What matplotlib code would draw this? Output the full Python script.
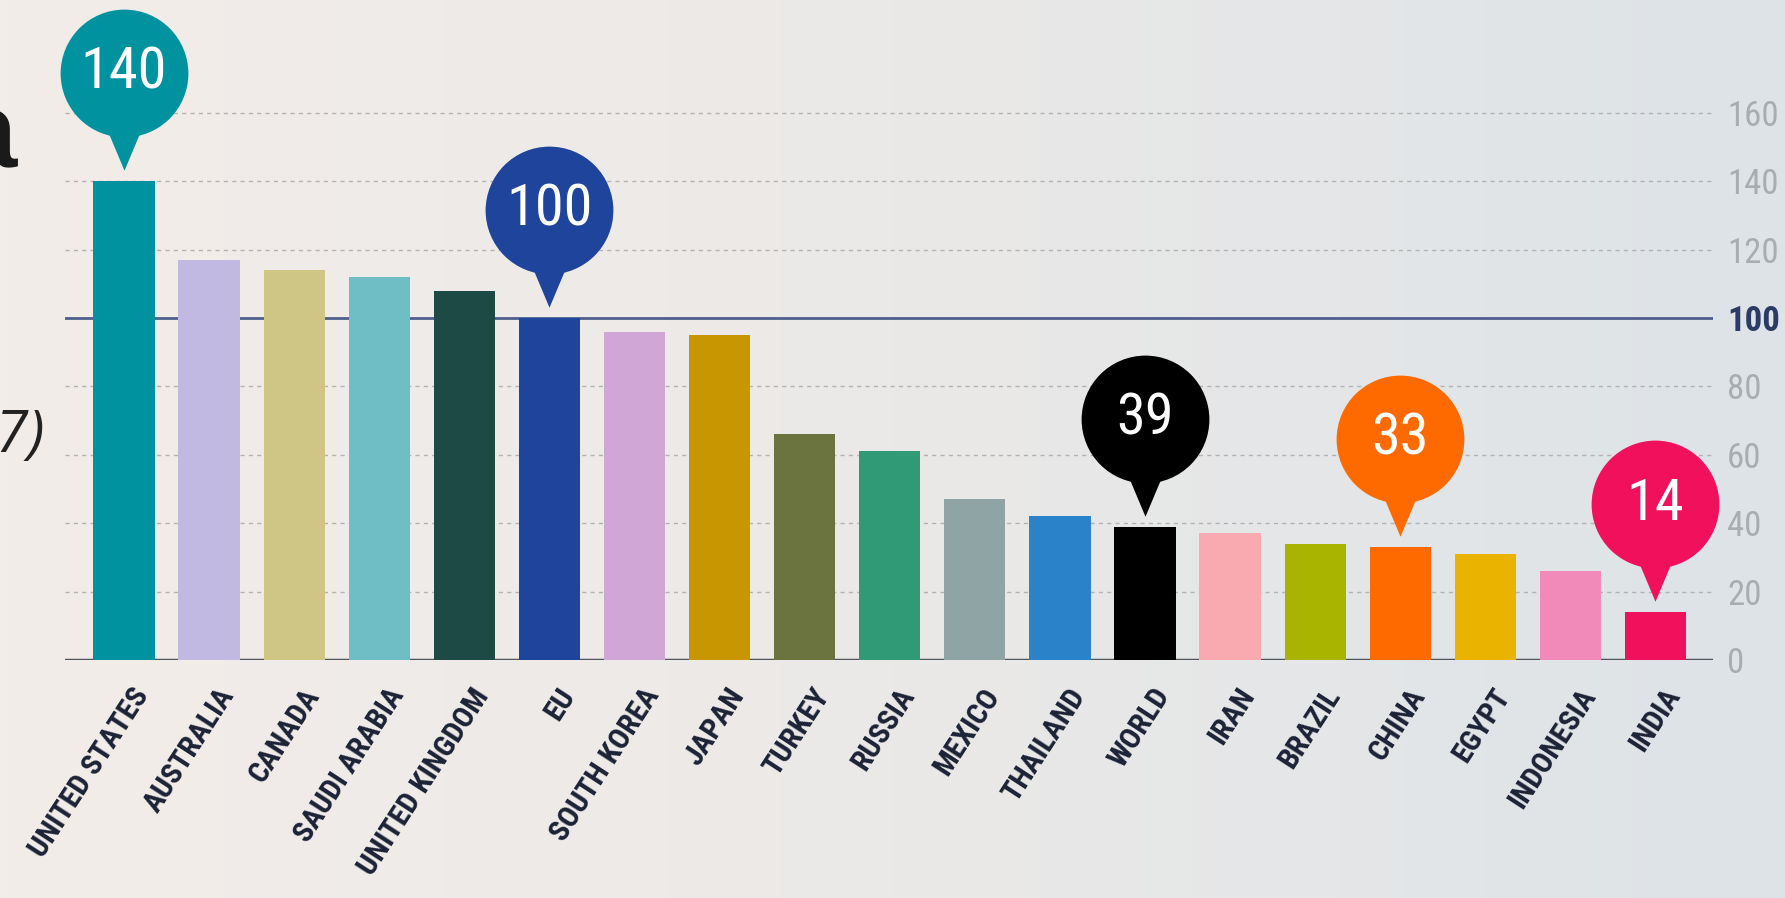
import matplotlib
matplotlib.use("Agg")
import matplotlib.pyplot as plt
import numpy as np
from matplotlib import font_manager
from matplotlib.colors import LinearSegmentedColormap
from matplotlib.transforms import offset_copy, ScaledTranslation

COUNTRIES = ["UNITED STATES", "AUSTRALIA", "CANADA", "SAUDI ARABIA", "UNITED KINGDOM",
             "EU", "SOUTH KOREA", "JAPAN", "TURKEY", "RUSSIA", "MEXICO", "THAILAND",
             "WORLD", "IRAN", "BRAZIL", "CHINA", "EGYPT", "INDONESIA", "INDIA"]
VALUES = [140, 117, 114, 112, 108, 100, 96, 95, 66, 61, 47, 42, 39, 37, 34, 33, 31, 26, 14]
COLORS = ["#00939f", "#c1b9e1", "#cfc584", "#6fbec6", "#1d4a45", "#1f449b", "#d0a6d6",
          "#c79600", "#6b743e", "#2f9a75", "#8fa4a4", "#2a82c9", "#000000", "#f9aab1",
          "#a9b400", "#ff6a00", "#e9b300", "#f189b9", "#f0105b"]
HIGHLIGHT = ["UNITED STATES", "EU", "WORLD", "CHINA", "INDIA"]
Y_TICKS = [0, 20, 40, 60, 80, 100, 120, 140, 160]

# pick a narrow face if one is installed
installed = {f.name for f in font_manager.fontManager.ttflist}
narrow = [n for n in ["Roboto Condensed", "Liberation Sans Narrow", "Open Sans Condensed",
                      "DejaVu Sans Condensed"] if n in installed]
NARROW = narrow[:1] + ["Roboto", "DejaVu Sans"]
is_narrow = bool(narrow)

W, H = 1785, 898
fig = plt.figure(figsize=(W / 100, H / 100), dpi=100)

# warm-to-cool background
bg = fig.add_axes([0, 0, 1, 1], zorder=-10)
grad = np.linspace(0, 1, 256).reshape(1, -1)
cmap = LinearSegmentedColormap.from_list("bg", ["#f3ede9", "#ebe9e7", "#dde3e7"])
bg.imshow(grad, aspect="auto", cmap=cmap, extent=(0, 1, 0, 1))
bg.set_axis_off()

# cropped title / subtitle at the left edge
fig.text(17 / W, 1 - 167 / H, "per capita", ha="right", va="baseline",
         fontsize=78, fontweight="bold", color="#1a1a1a",
         family=["Liberation Sans", "DejaVu Sans"])
fig.text(44 / W, 1 - 452 / H, "(kg per capita, 2017)", ha="right", va="baseline",
         fontsize=42, style="italic", color="#222222",
         family=["Open Sans", "Liberation Sans", "DejaVu Sans"])

ax = fig.add_axes([65 / W, 1 - 660 / H, (1713 - 65) / W, (660 - 61.5) / H])
ax.patch.set_alpha(0)
ax.set_xlim(-0.693, 18.676)
ax.set_ylim(0, 175)

x = np.arange(len(COUNTRIES))
for t in Y_TICKS:
    if t == 0:
        ax.axhline(t, color="#50565c", lw=2.5, zorder=1)
    elif t == 100:
        ax.axhline(t, color="#4e5f8e", lw=2, zorder=1)
    else:
        ax.axhline(t, color="#b3b3b3", lw=1, ls=(0, (3, 3)), zorder=0)

ax.bar(x, VALUES, width=0.72, color=COLORS, zorder=2)

# speech-bubble callouts
circ_tr = offset_copy(ax.transData, fig=fig, y=108, units="dots")
tri_tr = offset_copy(ax.transData, fig=fig, y=33, units="dots")
pointer = [(-0.42, 0.5), (0.42, 0.5), (0, -0.5)]
for name in HIGHLIGHT:
    i = COUNTRIES.index(name)
    v, c = VALUES[i], COLORS[i]
    ax.plot(x[i], v, marker=pointer, ms=32, color=c, mec="none",
            transform=tri_tr, clip_on=False, zorder=5)
    ax.plot(x[i], v, marker="o", ms=92, color=c, mec="none",
            transform=circ_tr, clip_on=False, zorder=5)
    ax.text(x[i], v, str(v), transform=circ_tr, ha="center", va="center",
            color="white", fontsize=42 if is_narrow else 34, family=NARROW, zorder=6)

# axes styling
for s in ax.spines.values():
    s.set_visible(False)
ax.yaxis.tick_right()
ax.set_yticks(Y_TICKS)
ax.set_yticklabels([str(t) for t in Y_TICKS])
ax.tick_params(axis="y", length=0, pad=10, labelsize=25 if is_narrow else 19,
               labelcolor="#a8adb1")
for lab in ax.get_yticklabels():
    lab.set_family(NARROW)
    if lab.get_text() == "100":
        lab.set_color("#2c3a66")
        lab.set_fontweight("bold")

ax.set_xticks(x)
ax.set_xticklabels(COUNTRIES, rotation=57, ha="right", va="center",
                   rotation_mode="anchor", fontsize=21.5 if is_narrow else 16,
                   fontweight="bold", color="#1c2236", family=NARROW)
ax.tick_params(axis="x", length=0, pad=0)
shift = ScaledTranslation(0.19, -0.31, fig.dpi_scale_trans)
for lab in ax.get_xticklabels():
    lab.set_transform(lab.get_transform() + shift)

fig.savefig("out.png", dpi=100)
